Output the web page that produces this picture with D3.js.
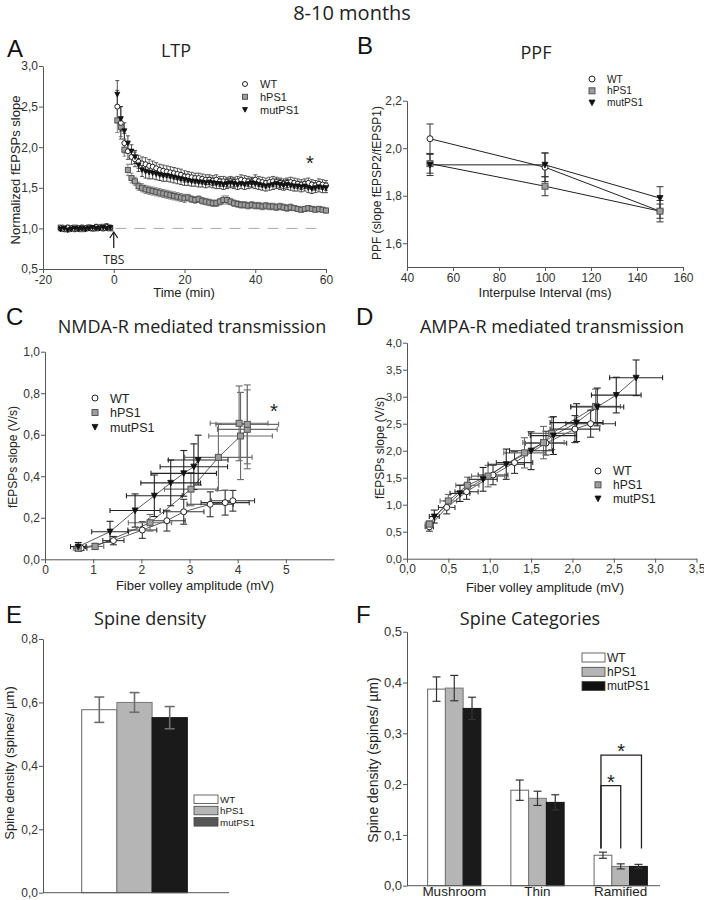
<!DOCTYPE html>
<html><head><meta charset="utf-8">
<script src="https://cdn.jsdelivr.net/npm/d3@7"></script>
<style>body{margin:0;background:#fff}</style>
</head><body>
<script>
// ===================== DATA =====================
const groups = ["WT", "hPS1", "mutPS1"];

// Panel A: LTP (time in min, normalized fEPSP slope, SEM)
const ltpTime = [-15,-14,-13,-12,-11,-10,-9,-8,-7,-6,-5,-4,-3,-2,-1,
  1,2,3,4,5,6,7,8,9,10,11,12,13,14,15,16,17,18,19,20,
  21,22,23,24,25,26,27,28,29,30,31,32,33,34,35,36,37,38,39,40,
  41,42,43,44,45,46,47,48,49,50,51,52,53,54,55,56,57,58,59,60];
const ltpWT = [1.00,0.99,1.01,1.00,0.99,1.00,1.01,1.00,1.01,1.00,1.02,1.01,1.00,1.02,1.01,
  2.50,2.30,2.05,1.95,1.88,1.85,1.82,1.80,1.79,1.77,
  1.76,1.74,1.72,1.71,1.70,1.69,1.68,1.67,1.66,1.64,
  1.64,1.63,1.62,1.62,1.61,1.60,1.60,1.59,1.60,1.58,
  1.58,1.57,1.58,1.57,1.58,1.60,1.59,1.58,1.57,1.60,
  1.58,1.57,1.56,1.57,1.58,1.57,1.56,1.55,1.56,1.57,
  1.56,1.55,1.54,1.55,1.56,1.54,1.53,1.55,1.54,1.53];
const ltpWTerr = [0.03,0.03,0.03,0.03,0.03,0.03,0.03,0.03,0.03,0.03,0.03,0.03,0.03,0.04,0.03,
  0.20,0.20,0.12,0.10,0.09,0.09,0.08,0.08,0.08,0.08,
  0.07,0.07,0.07,0.07,0.07,0.07,0.07,0.07,0.07,0.07,
  0.06,0.06,0.06,0.06,0.06,0.06,0.06,0.06,0.06,0.06,
  0.06,0.06,0.06,0.06,0.06,0.06,0.06,0.06,0.06,0.06,
  0.06,0.06,0.06,0.06,0.06,0.06,0.06,0.06,0.06,0.06,
  0.06,0.06,0.06,0.06,0.06,0.06,0.06,0.06,0.06,0.06];
const ltpHPS1 = [1.01,1.00,0.99,1.00,1.01,1.00,0.99,1.00,1.01,1.00,1.00,1.01,1.02,1.01,1.00,
  2.33,2.25,1.97,1.72,1.62,1.58,1.52,1.50,1.48,1.47,
  1.46,1.45,1.44,1.43,1.42,1.41,1.40,1.39,1.38,1.37,
  1.38,1.36,1.35,1.36,1.34,1.33,1.32,1.31,1.31,1.33,
  1.35,1.35,1.33,1.31,1.30,1.29,1.29,1.28,1.29,1.28,
  1.28,1.27,1.28,1.27,1.27,1.26,1.27,1.26,1.25,1.26,
  1.25,1.24,1.23,1.24,1.25,1.24,1.23,1.24,1.23,1.22];
const ltpHPS1err = [0.02,0.02,0.02,0.02,0.02,0.02,0.02,0.02,0.02,0.02,0.02,0.02,0.02,0.02,0.02,
  0.15,0.12,0.08,0.07,0.06,0.05,0.05,0.05,0.05,0.05,
  0.05,0.05,0.05,0.05,0.05,0.05,0.05,0.05,0.05,0.05,
  0.04,0.04,0.04,0.04,0.04,0.04,0.04,0.04,0.04,0.04,
  0.05,0.05,0.04,0.04,0.04,0.04,0.04,0.04,0.04,0.04,
  0.04,0.04,0.04,0.04,0.04,0.04,0.04,0.04,0.04,0.04,
  0.03,0.03,0.03,0.03,0.03,0.03,0.03,0.03,0.03,0.03];
const ltpMut = [0.99,1.00,0.98,0.99,1.00,0.99,1.00,0.99,1.00,1.01,1.00,1.00,1.01,1.00,1.01,
  2.65,2.35,2.20,2.05,1.95,1.88,1.78,1.72,1.70,1.69,
  1.68,1.67,1.66,1.65,1.65,1.64,1.63,1.62,1.61,1.60,
  1.59,1.58,1.58,1.57,1.57,1.56,1.57,1.56,1.55,1.55,
  1.54,1.55,1.56,1.55,1.54,1.55,1.54,1.55,1.56,1.55,
  1.54,1.53,1.52,1.53,1.54,1.55,1.54,1.53,1.54,1.53,
  1.52,1.52,1.51,1.52,1.50,1.49,1.50,1.51,1.50,1.50];
const ltpMutErr = [0.02,0.02,0.02,0.02,0.02,0.02,0.02,0.02,0.02,0.02,0.02,0.02,0.02,0.02,0.02,
  0.17,0.15,0.10,0.09,0.08,0.08,0.08,0.08,0.08,0.08,
  0.07,0.07,0.07,0.07,0.07,0.07,0.07,0.07,0.07,0.07,
  0.06,0.06,0.06,0.06,0.06,0.06,0.06,0.06,0.06,0.06,
  0.06,0.06,0.06,0.06,0.06,0.06,0.06,0.06,0.06,0.06,
  0.06,0.06,0.06,0.06,0.06,0.06,0.06,0.06,0.06,0.06,
  0.06,0.06,0.06,0.06,0.06,0.06,0.06,0.06,0.06,0.06];

// Panel B: PPF
const ppfInterval = [50, 100, 150];
const ppfWT = [2.04, 1.92, 1.735];
const ppfWTerr = [0.062, 0.06, 0.045];
const ppfHPS1 = [1.935, 1.84, 1.735];
const ppfHPS1err = [0.04, 0.04, 0.03];
const ppfMut = [1.93, 1.93, 1.79];
const ppfMutErr = [0.045, 0.05, 0.048];

// Panel C: NMDA-R input/output (fiber volley mV, slope V/s)
const nmdaWTx = [0.75, 1.42, 2.02, 2.53, 2.88, 3.43, 3.74, 3.90];
const nmdaWTy = [0.053, 0.090, 0.141, 0.186, 0.229, 0.265, 0.273, 0.282];
const nmdaWTxErr = [0.12, 0.22, 0.30, 0.38, 0.42, 0.48, 0.50, 0.45];
const nmdaWTyErr = [0.010, 0.02, 0.04, 0.05, 0.06, 0.06, 0.06, 0.05];
const nmdaHPS1x = [0.69, 1.04, 2.18, 3.03, 3.60, 4.06, 4.20, 4.20, 4.03];
const nmdaHPS1y = [0.053, 0.062, 0.176, 0.338, 0.491, 0.594, 0.626, 0.650, 0.655];
const nmdaHPS1xErr = [0.10, 0.18, 0.45, 0.55, 0.70, 0.66, 0.62, 0.65, 0.60];
const nmdaHPS1yErr = [0.010, 0.015, 0.04, 0.08, 0.16, 0.21, 0.19, 0.19, 0.18];
const nmdaMutX = [0.69, 1.35, 1.87, 2.27, 2.61, 2.88, 3.09, 3.18];
const nmdaMutY = [0.061, 0.133, 0.235, 0.306, 0.368, 0.414, 0.446, 0.478];
const nmdaMutXErr = [0.16, 0.38, 0.52, 0.58, 0.62, 0.68, 0.70, 0.62];
const nmdaMutYErr = [0.02, 0.05, 0.08, 0.10, 0.11, 0.11, 0.11, 0.12];

// Panel D: AMPA-R input/output
const ampaWTx = [0.27, 0.48, 0.72, 1.04, 1.30, 1.68, 2.03, 2.22];
const ampaWTy = [0.59, 0.95, 1.24, 1.55, 1.78, 2.14, 2.40, 2.50];
const ampaWTxErr = [0.05, 0.10, 0.14, 0.18, 0.22, 0.25, 0.30, 0.30];
const ampaWTyErr = [0.08, 0.12, 0.14, 0.18, 0.20, 0.22, 0.25, 0.25];
const ampaHPS1x = [0.27, 0.50, 0.73, 0.98, 1.42, 1.65, 1.75, 2.28];
const ampaHPS1y = [0.64, 1.07, 1.36, 1.53, 1.96, 2.15, 2.32, 2.82];
const ampaHPS1xErr = [0.05, 0.10, 0.14, 0.20, 0.25, 0.25, 0.28, 0.30];
const ampaHPS1yErr = [0.06, 0.12, 0.15, 0.20, 0.28, 0.30, 0.30, 0.32];
const ampaMutX = [0.33, 0.64, 0.92, 1.20, 1.50, 1.77, 2.05, 2.30, 2.53, 2.77];
const ampaMutY = [0.78, 1.21, 1.47, 1.75, 2.00, 2.28, 2.52, 2.81, 3.03, 3.35];
const ampaMutXErr = [0.06, 0.12, 0.17, 0.22, 0.26, 0.28, 0.32, 0.32, 0.30, 0.32];
const ampaMutYErr = [0.12, 0.15, 0.22, 0.28, 0.35, 0.35, 0.35, 0.35, 0.33, 0.33];

// Panel E: spine density
const densityMean = [0.577, 0.600, 0.552];
const densityErr = [0.040, 0.031, 0.035];

// Panel F: spine categories
const spineCats = ["Mushroom", "Thin", "Ramified"];
const catWT = [0.387, 0.188, 0.060];
const catWTerr = [0.024, 0.020, 0.006];
const catHPS1 = [0.389, 0.172, 0.038];
const catHPS1err = [0.025, 0.014, 0.005];
const catMut = [0.349, 0.164, 0.038];
const catMutErr = [0.022, 0.015, 0.004];
const sigBrackets = [
  {cat: "Ramified", from: "WT", to: "hPS1", level: 0.197, base: 0.073},
  {cat: "Ramified", from: "WT", to: "mutPS1", level: 0.257, base: 0.073}
];

// Tick values
const ltpYTicks = [0.5, 1.0, 1.5, 2.0, 2.5, 3.0];
const ltpXTicks = [-20, 0, 20, 40, 60];
const ppfYTicks = [1.6, 1.8, 2.0, 2.2];
const ppfXTicks = [40, 60, 80, 100, 120, 140, 160];
const nmdaYTicks = [0, 0.2, 0.4, 0.6, 0.8, 1.0];
const nmdaXTicks = [0, 1, 2, 3, 4, 5];
const ampaYTicks = [0, 0.5, 1.0, 1.5, 2.0, 2.5, 3.0, 3.5, 4.0];
const ampaXTicks = [0, 0.5, 1.0, 1.5, 2.0, 2.5, 3.0, 3.5];
const densYTicks = [0, 0.2, 0.4, 0.6, 0.8];
const catYTicks = [0, 0.1, 0.2, 0.3, 0.4, 0.5];

// ===================== DRAWING =====================
const SANS = "'Liberation Sans', Arial, sans-serif";
const TITLE = "'Open Sans', sans-serif";
const svg = d3.select("body").append("svg").attr("width", 704).attr("height", 900);
const comma = d => d3.format(".1f")(d).replace(".", ",");
const intf = d => String(d);

const style = {
  WT: {shape: "circle", fill: "#fff", stroke: "#222", err: "#333"},
  hPS1: {shape: "square", fill: "#9d9d9d", stroke: "#555", err: "#6a6a6a"},
  mutPS1: {shape: "tri", fill: "#111", stroke: "#111", err: "#222"}
};

function text(x, y, str, size, opts = {}) {
  const t = svg.append("text").attr("x", x).attr("y", y).text(str)
    .style("font-family", opts.family || SANS).style("font-size", size + "px")
    .attr("fill", opts.fill || "#222").attr("text-anchor", opts.anchor || "start");
  if (opts.rotate) t.attr("transform", `rotate(-90,${x},${y})`);
  return t;
}
function styleAxis(g, fs) {
  g.selectAll("path.domain").attr("stroke", "#555");
  g.selectAll(".tick line").attr("stroke", "#555");
  g.selectAll(".tick text").attr("fill", "#333").style("font-family", SANS).style("font-size", fs + "px");
}
function yAxis(y, x0, ticks, fmt, fs = 12) {
  const g = svg.append("g").attr("transform", `translate(${x0},0)`)
    .call(d3.axisLeft(y).tickValues(ticks).tickFormat(fmt).tickSize(4).tickSizeOuter(0).tickPadding(1));
  styleAxis(g, fs); return g;
}
function xAxis(x, y0, ticks, fmt, fs = 12) {
  const g = svg.append("g").attr("transform", `translate(0,${y0})`)
    .call(d3.axisBottom(x).tickValues(ticks).tickFormat(fmt).tickSize(4).tickSizeOuter(0).tickPadding(2));
  styleAxis(g, fs); return g;
}
function marker(g, grp, cx, cy, s) {
  const st = style[grp];
  if (st.shape === "circle") {
    g.append("circle").attr("cx", cx).attr("cy", cy).attr("r", s / 2)
      .attr("fill", st.fill).attr("stroke", st.stroke).attr("stroke-width", 1);
  } else if (st.shape === "square") {
    g.append("rect").attr("x", cx - s / 2).attr("y", cy - s / 2).attr("width", s).attr("height", s)
      .attr("fill", st.fill).attr("stroke", st.stroke).attr("stroke-width", 1);
  } else {
    const h = s * 0.95;
    g.append("path").attr("d", `M${cx - s / 2},${cy - h * 0.45}L${cx + s / 2},${cy - h * 0.45}L${cx},${cy + h * 0.55}Z`)
      .attr("fill", st.fill).attr("stroke", st.stroke).attr("stroke-width", 0.8);
  }
}
function vErr(g, x, y1, y2, cap, color, w = 1) {
  g.append("line").attr("x1", x).attr("x2", x).attr("y1", y1).attr("y2", y2).attr("stroke", color).attr("stroke-width", w);
  [y1, y2].forEach(yy => g.append("line").attr("x1", x - cap / 2).attr("x2", x + cap / 2).attr("y1", yy).attr("y2", yy).attr("stroke", color).attr("stroke-width", w));
}
function hErr(g, y, x1, x2, cap, color, w = 1) {
  g.append("line").attr("x1", x1).attr("x2", x2).attr("y1", y).attr("y2", y).attr("stroke", color).attr("stroke-width", w);
  [x1, x2].forEach(xx => g.append("line").attr("x1", xx).attr("x2", xx).attr("y1", y - cap / 2).attr("y2", y + cap / 2).attr("stroke", color).attr("stroke-width", w));
}
function pointLegend(x, y0, dy, fs, ms) {
  groups.forEach((grp, i) => {
    marker(svg, grp, x, y0 + i * dy, ms);
    text(x + 15, y0 + i * dy + fs * 0.36, grp, fs);
  });
}

// Main title
text(352, 20, "8-10 months", 20, {family: TITLE, anchor: "middle"});

// Panel letters
[["A", 7, 57], ["B", 357, 54], ["C", 6, 325], ["D", 356, 325], ["E", 6, 623], ["F", 356, 623]]
  .forEach(([l, x, y]) => text(x, y, l, 24, {fill: "#111"}));

// ---------- Panel A ----------
{
  const x = d3.scaleLinear([-20, 60], [43, 326]);
  const y = d3.scaleLinear([0.5, 3.0], [269, 66]);
  text(176, 57, "LTP", 18, {family: TITLE, anchor: "middle"});
  svg.append("line").attr("x1", x(0.5)).attr("x2", x(58)).attr("y1", y(1)).attr("y2", y(1))
    .attr("stroke", "#aaa").attr("stroke-width", 1).attr("stroke-dasharray", "11,8");
  yAxis(y, 43, ltpYTicks, comma);
  xAxis(x, 269, ltpXTicks, intf);
  const g = svg.append("g");
  const series = [["hPS1", ltpHPS1, ltpHPS1err], ["WT", ltpWT, ltpWTerr], ["mutPS1", ltpMut, ltpMutErr]];
  series.forEach(([grp, vals, errs]) => {
    vals.forEach((v, i) => vErr(g, x(ltpTime[i]), y(v - errs[i]), y(v + errs[i]), 4, style[grp].err, 0.8));
  });
  series.forEach(([grp, vals]) => {
    vals.forEach((v, i) => marker(g, grp, x(ltpTime[i]), y(v), 5));
  });
  const ax = x(0);
  svg.append("line").attr("x1", ax).attr("x2", ax).attr("y1", 233).attr("y2", 248).attr("stroke", "#111").attr("stroke-width", 1.2);
  svg.append("path").attr("d", `M${ax - 4},${238}L${ax},${232}L${ax + 4},${238}`).attr("fill", "none").attr("stroke", "#111").attr("stroke-width", 1.2);
  text(ax, 264, "TBS", 12, {family: TITLE, anchor: "middle"});
  text(310, 170, "*", 20, {anchor: "middle"});
  pointLegend(245, 84, 12.8, 11, 5);
  text(184, 297, "Time (min)", 13, {anchor: "middle"});
  text(20, 170, "Normalized fEPSPs slope", 13, {anchor: "middle", rotate: true});
}

// ---------- Panel B ----------
{
  const x = d3.scaleLinear([40, 160], [407, 683]);
  const y = d3.scaleLinear([1.5, 2.2], [267, 100.7]);
  text(536, 59, "PPF", 18, {family: TITLE, anchor: "middle"});
  yAxis(y, 407, ppfYTicks, comma);
  xAxis(x, 267, ppfXTicks, intf);
  const g = svg.append("g");
  const series = [["WT", ppfWT, ppfWTerr], ["hPS1", ppfHPS1, ppfHPS1err], ["mutPS1", ppfMut, ppfMutErr]];
  const line = d3.line().x((d, i) => x(ppfInterval[i])).y(d => y(d));
  series.forEach(([grp, vals]) => g.append("path").attr("d", line(vals)).attr("fill", "none").attr("stroke", "#222").attr("stroke-width", 1));
  series.forEach(([grp, vals, errs]) => vals.forEach((v, i) => vErr(g, x(ppfInterval[i]), y(v - errs[i]), y(v + errs[i]), 7, "#333", 1)));
  series.forEach(([grp, vals]) => vals.forEach((v, i) => marker(g, grp, x(ppfInterval[i]), y(v), 6)));
  pointLegend(592, 79, 11.8, 10.2, 6);
  text(545, 297, "Interpulse Interval (ms)", 13, {anchor: "middle"});
  text(381, 183, "PPF (slope fEPSP2/fEPSP1)", 12, {anchor: "middle", rotate: true});
}

function ioPanel(x, y, series, msize) {
  const g = svg.append("g");
  series.forEach(([grp, xs, ys]) => {
    g.append("path").attr("d", d3.line().x((d, i) => x(xs[i])).y(d => y(d))(ys))
      .attr("fill", "none").attr("stroke", "#333").attr("stroke-width", 0.8);
  });
  series.forEach(([grp, xs, ys, xe, ye]) => {
    xs.forEach((xv, i) => {
      hErr(g, y(ys[i]), x(xv - xe[i]), x(xv + xe[i]), 5, style[grp].err, 1.1);
      vErr(g, x(xv), y(ys[i] - ye[i]), y(ys[i] + ye[i]), 7, style[grp].err, 1.1);
    });
  });
  series.forEach(([grp, xs, ys]) => xs.forEach((xv, i) => marker(g, grp, x(xv), y(ys[i]), msize)));
}

// ---------- Panel C ----------
{
  const x = d3.scaleLinear([0, 6], [45, 334]);
  const y = d3.scaleLinear([0, 1], [559.3, 351.7]);
  text(192, 333, "NMDA-R mediated transmission", 18, {family: TITLE, anchor: "middle"});
  yAxis(y, 45, nmdaYTicks, comma);
  xAxis(x, 559.3, nmdaXTicks, intf);
  ioPanel(x, y, [
    ["WT", nmdaWTx, nmdaWTy, nmdaWTxErr, nmdaWTyErr],
    ["hPS1", nmdaHPS1x, nmdaHPS1y, nmdaHPS1xErr, nmdaHPS1yErr],
    ["mutPS1", nmdaMutX, nmdaMutY, nmdaMutXErr, nmdaMutYErr]
  ], 6);
  text(274, 418, "*", 20, {anchor: "middle"});
  pointLegend(95, 398, 14.5, 12.5, 6);
  text(195, 590, "Fiber volley amplitude (mV)", 13, {anchor: "middle"});
  text(17, 457, "fEPSPs slope (V/s)", 12, {anchor: "middle", rotate: true});
}

// ---------- Panel D ----------
{
  const x = d3.scaleLinear([0, 3.5], [407, 696.5]);
  const y = d3.scaleLinear([0, 4], [558.7, 342.7]);
  text(552, 333, "AMPA-R mediated transmission", 18, {family: TITLE, anchor: "middle"});
  yAxis(y, 407, ampaYTicks, comma, 11.5);
  xAxis(x, 558.7, ampaXTicks, comma);
  ioPanel(x, y, [
    ["WT", ampaWTx, ampaWTy, ampaWTxErr, ampaWTyErr],
    ["hPS1", ampaHPS1x, ampaHPS1y, ampaHPS1xErr, ampaHPS1yErr],
    ["mutPS1", ampaMutX, ampaMutY, ampaMutXErr, ampaMutYErr]
  ], 6);
  pointLegend(598, 471, 13.8, 12, 6);
  text(545, 592, "Fiber volley amplitude (mV)", 13, {anchor: "middle"});
  text(384, 448, "fEPSPs slope (V/s)", 12, {anchor: "middle", rotate: true});
}

const barFill = {WT: "#fff", hPS1: "#b5b5b5", mutPS1: "#1a1a1a"};
const barStroke = {WT: "#666", hPS1: "#777", mutPS1: "#111"};

// ---------- Panel E ----------
{
  const x = d3.scaleBand(groups, [81.7, 187.3]);
  const y = d3.scaleLinear([0, 0.8], [892.7, 639]);
  text(150, 625, "Spine density", 18, {family: TITLE, anchor: "middle"});
  const g = svg.append("g");
  groups.forEach((grp, i) => {
    g.append("rect").attr("x", x(grp)).attr("y", y(densityMean[i])).attr("width", x.bandwidth())
      .attr("height", y(0) - y(densityMean[i])).attr("fill", barFill[grp]).attr("stroke", barStroke[grp]).attr("stroke-width", 1);
    vErr(g, x(grp) + x.bandwidth() / 2, y(densityMean[i] - densityErr[i]), y(densityMean[i] + densityErr[i]), 10, "#6e6e6e", 1.6);
  });
  yAxis(y, 43, densYTicks, comma);
  svg.append("line").attr("x1", 43).attr("x2", 229).attr("y1", y(0)).attr("y2", y(0)).attr("stroke", "#555");
  const legFill = {WT: "#fff", hPS1: "#b5b5b5", mutPS1: "#555"};
  groups.forEach((grp, i) => {
    svg.append("rect").attr("x", 194).attr("y", 795 + i * 11.3).attr("width", 24).attr("height", 8.5)
      .attr("fill", legFill[grp]).attr("stroke", "#444").attr("stroke-width", 0.8);
    text(220, 803 + i * 11.3, grp, 9.8);
  });
  text(14, 763, "Spine density (spines/ µm)", 13, {anchor: "middle", rotate: true});
}

// ---------- Panel F ----------
{
  const x0 = d3.scaleBand(spineCats, [407, 660]).paddingInner(0.36).paddingOuter(0.2).align(0.62);
  const x1 = d3.scaleBand(groups, [0, x0.bandwidth()]);
  const y = d3.scaleLinear([0, 0.5], [885.7, 631.7]);
  text(530, 625, "Spine Categories", 18, {family: TITLE, anchor: "middle"});
  const vals = {WT: [catWT, catWTerr], hPS1: [catHPS1, catHPS1err], mutPS1: [catMut, catMutErr]};
  const g = svg.append("g");
  spineCats.forEach((c, ci) => {
    groups.forEach(grp => {
      const v = vals[grp][0][ci], e = vals[grp][1][ci];
      const bx = x0(c) + x1(grp);
      g.append("rect").attr("x", bx).attr("y", y(v)).attr("width", x1.bandwidth()).attr("height", y(0) - y(v))
        .attr("fill", barFill[grp]).attr("stroke", barStroke[grp]).attr("stroke-width", 1);
      vErr(g, bx + x1.bandwidth() / 2, y(v - e), y(v + e), 8, "#333", 1.2);
    });
  });
  sigBrackets.forEach(b => {
    const xa = x0(b.cat) + x1(b.from) + x1.bandwidth() / 2 - 2;
    const xb = x0(b.cat) + x1(b.to) + x1.bandwidth() / 2 + (b.to === "mutPS1" ? 3 : 0);
    g.append("path").attr("d", `M${xa},${y(b.base)}V${y(b.level)}H${xb}V${y(b.base)}`)
      .attr("fill", "none").attr("stroke", "#222").attr("stroke-width", 1.3);
    text((xa + xb) / 2, y(b.level) + 3, "*", 20, {anchor: "middle"});
  });
  yAxis(y, 407, catYTicks, comma, 13);
  svg.append("line").attr("x1", 407).attr("x2", 660).attr("y1", y(0)).attr("y2", y(0)).attr("stroke", "#555");
  spineCats.forEach(c => text(x0(c) + x0.bandwidth() / 2, 896, c, 13.5, {anchor: "middle"}));
  const legFill = {WT: "#fff", hPS1: "#b5b5b5", mutPS1: "#111"};
  groups.forEach((grp, i) => {
    svg.append("rect").attr("x", 582).attr("y", 653 + i * 14.3).attr("width", 23).attr("height", 9)
      .attr("fill", legFill[grp]).attr("stroke", "#444").attr("stroke-width", 0.8);
    text(607, 661.5 + i * 14.3, grp, 12);
  });
  text(378, 760, "Spine density (spines/ µm)", 14, {anchor: "middle", rotate: true});
}
</script>
</body></html>
